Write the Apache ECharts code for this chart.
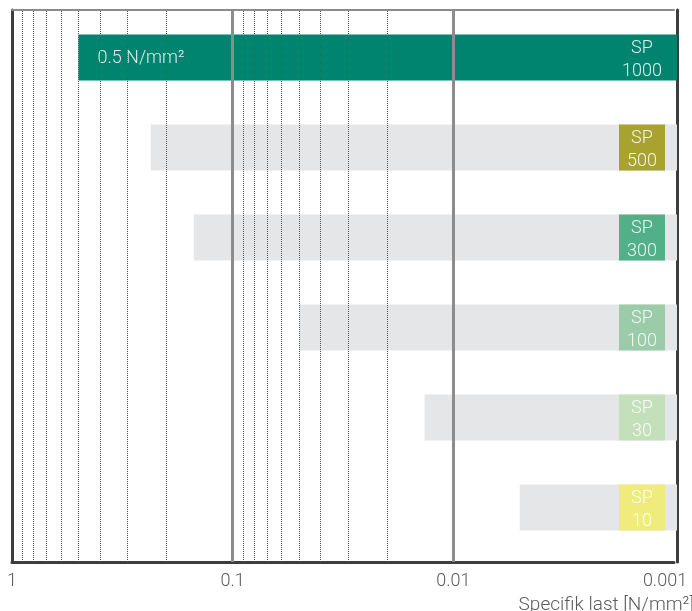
<!DOCTYPE html>
<html>
<head>
<meta charset="utf-8">
<script src="https://cdn.jsdelivr.net/npm/echarts@6/dist/echarts.min.js"></script>
<style>
html,body{margin:0;padding:0;background:#fff;}
#chart{width:692px;height:611px;}
</style>
</head>
<body>
<div id="chart"></div>
<script>
// ---- data ----
const categories = ['SP 1000', 'SP 500', 'SP 300', 'SP 100', 'SP 30', 'SP 10'];
const labelTop = ['SP', 'SP', 'SP', 'SP', 'SP', 'SP'];
const labelBottom = ['1000', '500', '300', '100', '30', '10'];
const startValues = [0.5, 0.235, 0.15, 0.05, 0.0135, 0.005];
const endValues = [0.001, 0.001, 0.001, 0.001, 0.001, 0.001];
const noteText = '0.5 N/mm²';
const majorTicks = [1, 0.1, 0.01, 0.001];
const tickLabels = ['1', '0.1', '0.01', '0.001'];
const minorLines = [0.9, 0.8, 0.7, 0.6, 0.5, 0.4, 0.3, 0.2,
                    0.09, 0.08, 0.07, 0.06, 0.05, 0.04, 0.03, 0.02,
                    0.009, 0.008, 0.007, 0.006, 0.005, 0.004, 0.003, 0.002];
const axisTitle = 'Specifik last [N/mm²]';

// ---- styles ----
const barColors = ['#00836f', '#e5e6e7', '#e5e6e7', '#e5e6e7', '#e5e6e7', '#e5e6e7'];
const boxColors = ['#00836f', '#a8a22f', '#52b089', '#9bcba9', '#c4e0ba', '#efec7b'];
const FONT = 'Roboto, "Liberation Sans", sans-serif';

const barData = categories.map((c, i) => [startValues[i], endValues[i], i]);
const innerMajors = majorTicks.slice(1, -1);

function renderItem(params, api) {
  const i = api.value(2);
  const s = api.coord([api.value(0), i]);
  const e = api.coord([api.value(1), i]);
  const band = Math.abs(api.coord([api.value(1), 1])[1] - api.coord([api.value(1), 0])[1]);
  const h = band * 0.511;
  const y = s[1] - h / 2;
  const children = [{
    type: 'rect',
    shape: { x: s[0], y: y, width: e[0] + 3 - s[0], height: h },
    style: { fill: barColors[i] }
  }];
  if (i > 0) {
    children.push({
      type: 'rect',
      shape: { x: e[0] - 55, y: y, width: 46, height: h },
      style: { fill: boxColors[i] }
    });
  }
  children.push({
    type: 'text',
    x: e[0] - 32, y: s[1] + 2.5,
    style: {
      text: labelTop[i] + '\n' + labelBottom[i],
      align: 'center', verticalAlign: 'middle',
      fill: 'rgba(255,255,255,0.88)',
      fontFamily: FONT, fontWeight: 300, fontSize: 18, lineHeight: 22.5
    }
  });
  if (i === 0) {
    children.push({
      type: 'text',
      x: s[0] + 19, y: s[1] + 1,
      style: {
        text: noteText, align: 'left', verticalAlign: 'middle',
        fill: 'rgba(255,255,255,0.85)',
        fontFamily: FONT, fontWeight: 300, fontSize: 18
      }
    });
  }
  return { type: 'group', children: children };
}

const logAxisBase = {
  type: 'log', logBase: 10, min: 0.001, max: 1, inverse: true
};

const chart = echarts.init(document.getElementById('chart'), null, { renderer: 'canvas' });
chart.setOption({
  animation: false,
  grid: [
    { left: 12, right: 18, top: 10, bottom: 49 },
    { left: 12, right: 18, top: 12.5, bottom: 58.5 }
  ],
  xAxis: [
    Object.assign({}, logAxisBase, {
      gridIndex: 0, position: 'bottom',
      axisLine: { show: true, onZero: false, lineStyle: { color: '#3d3d3d', width: 3 } },
      axisTick: { show: false },
      splitLine: { show: false },
      axisLabel: {
        show: true, margin: 10, color: '#5a5a5a', fontSize: 18, fontWeight: 300, fontFamily: FONT,
        formatter: function (v) {
          const k = Math.round(-Math.log10(v));
          const t = tickLabels[k];
          return k === 3 ? '{r|' + t + '}' : t;
        },
        rich: { r: { padding: [0, 18, 0, 0], color: '#5a5a5a', fontSize: 18, fontWeight: 300, fontFamily: FONT } }
      }
    }),
    Object.assign({}, logAxisBase, {
      gridIndex: 0, position: 'top',
      axisLine: { show: true, onZero: false, lineStyle: { color: '#8c8c8c', width: 2 } },
      axisTick: { show: false }, axisLabel: { show: false }, splitLine: { show: false }
    }),
    Object.assign({}, logAxisBase, {
      gridIndex: 1, show: false
    })
  ],
  yAxis: [
    { type: 'value', gridIndex: 0, min: 0, max: 1, position: 'left',
      axisLine: { show: true, onZero: false, lineStyle: { color: '#3d3d3d', width: 3 } },
      axisTick: { show: false }, axisLabel: { show: false }, splitLine: { show: false } },
    { type: 'value', gridIndex: 0, min: 0, max: 1, position: 'right', offset: 3,
      axisLine: { show: true, onZero: false, lineStyle: { color: '#3d3d3d', width: 3 } },
      axisTick: { show: false }, axisLabel: { show: false }, splitLine: { show: false } },
    { type: 'category', gridIndex: 1, data: categories, inverse: true, show: false }
  ],
  series: [
    {
      type: 'custom', xAxisIndex: 2, yAxisIndex: 2, z: 2,
      renderItem: renderItem,
      encode: { x: [0, 1], y: 2 },
      data: barData, silent: true
    },
    {
      type: 'scatter', xAxisIndex: 0, yAxisIndex: 0, z: 5,
      data: [[0.5, 0.5]], symbolSize: 0, silent: true,
      markLine: {
        silent: true, symbol: 'none', label: { show: false },
        animation: false,
        data: minorLines.map(v => ({ xAxis: v, lineStyle: { color: '#555', width: 1, type: [1, 1] } }))
          .concat(innerMajors.map(v => ({ xAxis: v, lineStyle: { color: '#8c8c8c', width: 3, type: 'solid' } })))
      }
    }
  ],
  graphic: [
    {
      type: 'text', right: -2, top: 596,
      style: { text: axisTitle, fill: '#5a5a5a', fontSize: 19, fontWeight: 300, fontFamily: FONT }
    }
  ]
});
</script>
</body>
</html>
